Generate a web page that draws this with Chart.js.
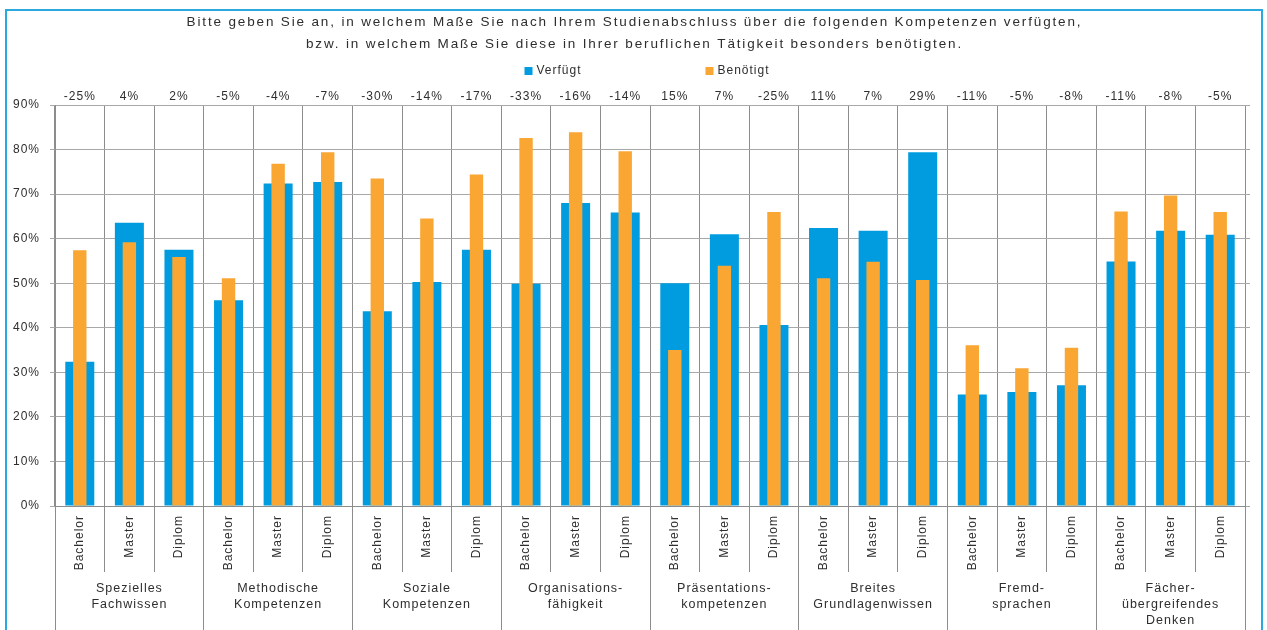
<!DOCTYPE html>
<html lang="de">
<head>
<meta charset="utf-8">
<title>Kompetenzen nach Studienabschluss</title>
<script src="https://cdn.jsdelivr.net/npm/chart.js@4.4.1/dist/chart.umd.min.js"></script>
<style>
  html, body { margin: 0; padding: 0; background: #fff; }
  #wrap { position: relative; width: 1267px; height: 630px; overflow: hidden; background: #fff; }
  #frame { position: absolute; left: 5px; top: 9px; width: 1254px; height: 700px; border: 2px solid #2aa9e1; pointer-events: none; }
</style>
</head>
<body>
<div id="wrap">
  <canvas id="kompetenzChart"></canvas>
  <div id="frame"></div>
</div>
<script>
const abschluesse = ['Bachelor', 'Master', 'Diplom'];
const kompetenzen = [
  ['Spezielles', 'Fachwissen'],
  ['Methodische', 'Kompetenzen'],
  ['Soziale', 'Kompetenzen'],
  ['Organisations-', 'fähigkeit'],
  ['Präsentations-', 'kompetenzen'],
  ['Breites', 'Grundlagenwissen'],
  ['Fremd-', 'sprachen'],
  ['Fächer-', 'übergreifendes', 'Denken']
];

// Anteile in %, je Kompetenz: Bachelor, Master, Diplom
const verfuegt = [
  32.4, 63.6, 57.5,
  46.2, 72.4, 72.7,
  43.7, 50.3, 57.5,
  49.9, 68.0, 65.9,
  50.0, 61.0, 40.6,
  62.4, 61.8, 79.4,
  25.0, 25.6, 27.1,
  54.9, 61.8, 60.9
];
const benoetigt = [
  57.4, 59.2, 55.9,
  51.1, 76.8, 79.4,
  73.5, 64.5, 74.4,
  82.6, 83.9, 79.6,
  35.0, 53.9, 66.0,
  51.1, 54.8, 50.7,
  36.1, 30.9, 35.5,
  66.1, 69.7, 66.0
];

const titel = [
  'Bitte geben Sie an, in welchem Maße Sie nach Ihrem Studienabschluss über die folgenden Kompetenzen verfügten,',
  'bzw. in welchem Maße Sie diese in Ihrer beruflichen Tätigkeit besonders benötigten.'
];

const labels = kompetenzen.flatMap(() => abschluesse);

const BLAU = '#009cdf';
const ORANGE = '#f9a633';
const FONT = '"Liberation Sans", Arial, sans-serif';
const TEXT = '#2e2e2e';
const SPACING = '1px';

const align = px => Math.round(px - 0.5) + 0.5;

// gesperrte Schrift für alle Texte im Canvas
const sperrung = {
  id: 'sperrung',
  beforeLayout(chart) { chart.ctx.letterSpacing = SPACING; },
  beforeDraw(chart) { chart.ctx.letterSpacing = SPACING; }
};

// Titel, Differenzen, Trennlinien, Kompetenzgruppen und Legende
const extras = {
  id: 'extras',
  afterDraw(chart) {
    const { ctx, chartArea, scales: { x } } = chart;
    const n = labels.length;
    const step = (x.right - x.left) / n;
    const mitte = chart.width / 2;
    ctx.save();
    ctx.fillStyle = TEXT;
    ctx.textAlign = 'center';
    ctx.textBaseline = 'middle';

    ctx.font = '13.5px ' + FONT;
    ctx.letterSpacing = '1.85px';
    titel.forEach((t, j) => ctx.fillText(t, mitte + 1, 22 + j * 22));

    ctx.letterSpacing = SPACING;
    ctx.font = '12px ' + FONT;
    labels.forEach((_, i) => {
      const d = Math.round(verfuegt[i] - benoetigt[i]);
      ctx.fillText(d + '%', x.getPixelForValue(i), chartArea.top - 8);
    });

    ctx.strokeStyle = '#8c8c8c';
    ctx.lineWidth = 1;
    for (let i = 0; i <= n; i++) {
      const px = align(x.left + i * step);
      const yEnd = i % 3 === 0 ? chart.height : chartArea.bottom + 66;
      ctx.beginPath();
      ctx.moveTo(px, chartArea.bottom);
      ctx.lineTo(px, yEnd);
      ctx.stroke();
    }

    ctx.font = '12.5px ' + FONT;
    kompetenzen.forEach((zeilen, g) => {
      const cx = x.getPixelForValue(g * 3 + 1);
      zeilen.forEach((t, j) => ctx.fillText(t, cx, chartArea.bottom + 83 + j * 16));
    });

    // Legende
    const pos = [mitte - 109, mitte + 72];
    ctx.font = '12px ' + FONT;
    ctx.textAlign = 'left';
    chart.data.datasets.forEach((ds, i) => {
      ctx.fillStyle = ds.backgroundColor;
      ctx.fillRect(pos[i], 67, 8, 8);
      ctx.fillStyle = TEXT;
      ctx.fillText(ds.label, pos[i] + 12, 71);
    });
    ctx.restore();
  }
};

new Chart(document.getElementById('kompetenzChart'), {
  type: 'bar',
  data: {
    labels: labels,
    datasets: [
      {
        label: 'Verfügt',
        data: verfuegt,
        backgroundColor: BLAU,
        barPercentage: 0.585,
        categoryPercentage: 1,
        grouped: false,
        order: 2
      },
      {
        label: 'Benötigt',
        data: benoetigt,
        backgroundColor: ORANGE,
        barPercentage: 0.27,
        categoryPercentage: 1,
        grouped: false,
        order: 1
      }
    ]
  },
  options: {
    responsive: true,
    maintainAspectRatio: false,
    animation: false,
    layout: { padding: { top: 105, left: 0, right: 0, bottom: 0 } },
    plugins: {
      legend: { display: false },
      tooltip: { enabled: false },
      title: { display: false }
    },
    scales: {
      x: {
        offset: true,
        grid: { display: true, offset: true, color: '#8c8c8c', drawTicks: false },
        border: { display: true, color: '#8c8c8c' },
        ticks: {
          autoSkip: false,
          minRotation: 90,
          maxRotation: 90,
          padding: 9,
          color: TEXT,
          font: { family: FONT, size: 12 }
        },
        afterFit: s => { s.height = 124; }
      },
      y: {
        min: 0,
        max: 90,
        grid: { color: '#a8a8a8', tickLength: 5 },
        border: { display: true, color: '#8c8c8c' },
        ticks: {
          stepSize: 10,
          padding: 10,
          color: TEXT,
          font: { family: FONT, size: 12 },
          callback: v => v + '%'
        },
        afterFit: s => { s.width = 55; }
      },
      y2: {
        position: 'right',
        min: 0,
        max: 90,
        grid: { drawOnChartArea: false, color: '#a8a8a8', tickLength: 5 },
        border: { display: false },
        ticks: { display: false, stepSize: 10 },
        afterFit: s => { s.width = 22; }
      }
    }
  },
  plugins: [sperrung, extras]
});
</script>
</body>
</html>
